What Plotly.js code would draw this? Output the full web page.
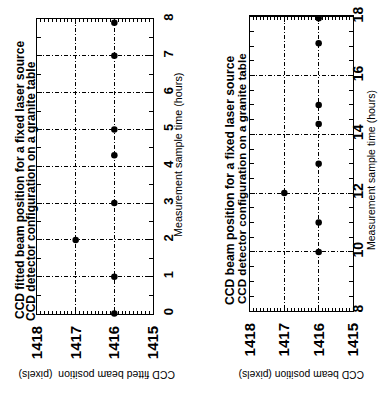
<!DOCTYPE html>
<html>
<head>
<meta charset="utf-8">
<script src="https://cdn.plot.ly/plotly-3.0.1.min.js"></script>
<style>html,body{margin:0;padding:0;background:#fff;}#chart{width:391px;height:402px;}</style>
</head>
<body>
<div id="chart"></div>
<script>
// Data
const leftTime = [0, 1, 2, 3, 4.3, 5, 7, 7.9];          // hours
const leftPos = [1416, 1416, 1417, 1416, 1416, 1416, 1416, 1416]; // pixels
const rightTime = [10, 11, 12, 13, 14.35, 15, 17.1, 17.95];
const rightPos = [1416, 1416, 1417, 1416, 1416, 1416, 1416, 1416];
const pixelTicks = [1415, 1416, 1417, 1418];
const leftTimeTicks = [0, 1, 2, 3, 4, 5, 6, 7, 8];
const rightTimeTicks = [8, 10, 12, 14, 16, 18];

const leftTitle1 = 'CCD fitted beam position for a fixed laser source';
const leftTitle2 = 'CCD detector configuration on a granite table';
const rightTitle1 = 'CCD beam position for a fixed laser source';
const rightTitle2 = 'CCD detector configuration on a granite table';
const leftXTitle = 'CCD fitted beam position  (pixels)';
const rightXTitle = 'CCD beam position (pixels)';
const timeTitle = 'Measurement sample time (hours)';

const FONT = 'Liberation Sans, Arial, Helvetica, sans-serif';
const W = 391, H = 402;
const px = v => v / W;
const py = v => (H - v) / H;
const DASH = '4px,2px,1px,2px';

function pixAxis(domain) {
  return {
    domain: domain, range: [1418, 1415], tickmode: 'array', tickvals: pixelTicks,
    ticktext: pixelTicks.map(String), tickangle: -90,
    ticks: 'inside', ticklen: 5, tickcolor: '#000', tickwidth: 1,
    showline: true, linecolor: '#000', linewidth: 1.3, mirror: 'allticks',
    showgrid: true, gridcolor: '#000', gridwidth: 1, griddash: DASH,
    zeroline: false, ticklabelstandoff: 5,
    tickfont: {family: FONT, size: 15, color: '#000', weight: 'bold'},
    minor: {tickmode: 'linear', ticks: 'inside', dtick: 0.1, tick0: 1415, ticklen: 3, tickcolor: '#000', tickwidth: 1, showgrid: false}
  };
}
function timeAxis(domain, range, vals, x, fs, standoff) {
  return {
    domain: domain, range: range, anchor: x, side: 'right', tickmode: 'array', tickvals: vals,
    ticktext: vals.map(String), tickangle: -90,
    ticks: 'inside', ticklen: 5, tickcolor: '#000', tickwidth: 1,
    showline: true, linecolor: '#000', linewidth: 1.3, mirror: 'allticks',
    showgrid: true, gridcolor: '#000', gridwidth: 1, griddash: DASH,
    zeroline: false, ticklabelstandoff: standoff,
    tickfont: {family: FONT, size: fs, color: '#000', weight: 'bold'},
    minor: {tickmode: 'linear', ticks: 'inside', dtick: 0.5, tick0: 0, ticklen: 4, tickcolor: '#000', tickwidth: 1, showgrid: false}
  };
}

const data = [
  {x: leftPos, y: leftTime, xaxis: 'x', yaxis: 'y', type: 'scatter', mode: 'markers',
   marker: {color: '#000', size: 6.5}, cliponaxis: false, showlegend: false},
  {x: rightPos, y: rightTime, xaxis: 'x2', yaxis: 'y2', type: 'scatter', mode: 'markers',
   marker: {color: '#000', size: 6.5}, cliponaxis: false, showlegend: false}
];

function ann(text, x, y, angle, size, bold) {
  return {text: text, xref: 'paper', yref: 'paper', x: px(x), y: py(y), xanchor: 'center', yanchor: 'middle',
    textangle: angle, showarrow: false,
    font: {family: FONT, size: size, color: '#000', weight: bold ? 'bold' : 'normal'}};
}

const layout = {
  width: W, height: H, autosize: false,
  margin: {l: 0, r: 0, t: 0, b: 0, pad: 0},
  paper_bgcolor: '#fff', plot_bgcolor: '#fff', showlegend: false,
  xaxis: Object.assign(pixAxis([px(37), px(153)]), {anchor: 'y'}),
  yaxis: timeAxis([py(313.5), py(19)], [0, 8], leftTimeTicks, 'x', 13, 3),
  xaxis2: Object.assign(pixAxis([px(250), px(353)]), {anchor: 'y2'}),
  yaxis2: timeAxis([py(310.7), py(16.7)], [8, 18], rightTimeTicks, 'x2', 14, -8),
  annotations: [
    ann(leftTitle1, 20, 180, -90, 12, true),
    ann(leftTitle2, 31, 191, -90, 12, true),
    ann(rightTitle1, 230, 181, -90, 12.2, true),
    ann(rightTitle2, 241, 178, -90, 11.6, true),
    ann(leftXTitle, 97, 375, 180, 10.5, false),
    ann(rightXTitle, 302, 375, 180, 10.3, false),
    ann(timeTitle, 178, 155, -90, 10.8, false),
    ann(timeTitle, 371, 170, -90, 10.5, false)
  ]
};

Plotly.newPlot('chart', data, layout, {displayModeBar: false, staticPlot: true});
</script>
</body>
</html>
